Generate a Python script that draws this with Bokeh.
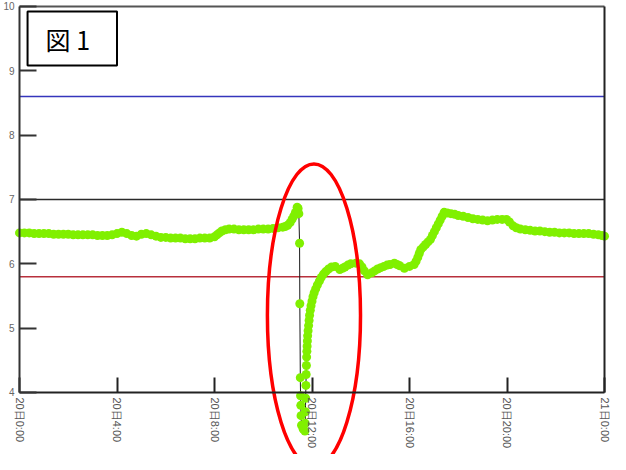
import math
from bokeh.plotting import figure
from bokeh.models import Range1d, LinearAxis, FixedTicker, Label
from bokeh.embed import file_html
from bokeh.resources import INLINE

# ---- data ----
hours = [
    0.0, 0.2, 0.4, 0.6, 0.8, 1.0, 1.2, 1.4, 1.6, 1.8, 2.0, 2.2, 2.4, 2.6, 2.8,
    3.0, 3.2, 3.4, 3.6, 3.8, 4.0, 4.2, 4.4, 4.6, 4.8, 5.0, 5.2, 5.4, 5.6, 5.8,
    6.0, 6.2, 6.4, 6.6, 6.8, 7.0, 7.2, 7.4, 7.6, 7.8, 8.0, 8.1, 8.2, 8.3,
    8.45, 8.6, 8.8, 9.0, 9.2, 9.4, 9.6, 9.8, 10.0, 10.2, 10.4, 10.6, 10.8,
    10.9, 11.0, 11.1, 11.18, 11.25, 11.32, 11.39,
    11.43, 11.46, 11.49, 11.50, 11.52, 11.53, 11.54, 11.55, 11.57, 11.64,
    11.71, 11.72, 11.73, 11.74, 11.75, 11.76, 11.77, 11.78, 11.79, 11.80,
    11.81, 11.82, 11.84, 11.86, 11.88, 11.90, 11.93, 11.96, 12.00, 12.04,
    12.09, 12.15, 12.22, 12.30, 12.38, 12.47, 12.57, 12.68, 12.80, 12.95,
    13.14, 13.25, 13.35, 13.47, 13.59, 13.80, 13.95, 14.05, 14.15, 14.28,
    14.45, 14.57, 14.69, 14.82, 14.95, 15.08, 15.20, 15.38, 15.49, 15.60,
    15.79, 16.00, 16.19, 16.27, 16.34, 16.40,
    16.46, 16.56, 16.66, 16.76, 16.86, 16.94, 17.02, 17.10, 17.18, 17.26,
    17.34, 17.42, 17.55, 17.70, 17.85, 18.00, 18.2, 18.4, 18.6, 18.8, 19.0,
    19.2, 19.4, 19.6, 19.8, 19.98, 20.1, 20.25, 20.38, 20.55, 20.75, 20.95,
    21.15, 21.35, 21.55, 21.75, 21.95, 22.15, 22.35, 22.55, 22.75, 22.95,
    23.15, 23.35, 23.55, 23.75, 23.9, 24.0,
]
ph = [
    6.48, 6.48, 6.48, 6.47, 6.47, 6.47, 6.47, 6.46, 6.46, 6.46, 6.46, 6.45, 6.45, 6.45, 6.45,
    6.45, 6.44, 6.44, 6.44, 6.45, 6.47, 6.49, 6.47, 6.44, 6.43, 6.46, 6.47, 6.45, 6.43, 6.41,
    6.41, 6.40, 6.40, 6.40, 6.39, 6.39, 6.39, 6.40, 6.40, 6.40, 6.42, 6.45, 6.48, 6.51,
    6.53, 6.54, 6.54, 6.53, 6.53, 6.53, 6.53, 6.54, 6.54, 6.54, 6.55, 6.56, 6.57,
    6.58, 6.60, 6.64, 6.69, 6.74, 6.80, 6.88,
    6.86, 6.78, 6.32, 5.38, 4.23, 3.95, 3.80, 3.64, 3.49, 3.43,
    3.40, 3.52, 3.70, 3.91, 4.11, 4.28, 4.42, 4.55, 4.64, 4.72,
    4.80, 4.88, 4.96, 5.04, 5.12, 5.20, 5.28, 5.35, 5.42, 5.49,
    5.55, 5.61, 5.67, 5.73, 5.79, 5.84, 5.88, 5.92, 5.95, 5.96,
    5.91, 5.93, 5.95, 5.98, 6.00, 6.01, 6.00, 5.95, 5.89, 5.83,
    5.86, 5.89, 5.92, 5.94, 5.96, 5.98, 5.99, 6.01, 5.99, 5.97,
    5.93, 5.96, 5.99, 6.04, 6.10, 6.16,
    6.22, 6.26, 6.30, 6.34, 6.38, 6.44, 6.50, 6.56, 6.62, 6.68,
    6.74, 6.80, 6.79, 6.78, 6.77, 6.75, 6.74, 6.72, 6.70, 6.69, 6.68,
    6.67, 6.68, 6.69, 6.69, 6.69, 6.65, 6.59, 6.56, 6.54, 6.53, 6.52,
    6.51, 6.51, 6.50, 6.49, 6.49, 6.48, 6.48, 6.48, 6.47, 6.47,
    6.47, 6.47, 6.46, 6.45, 6.44, 6.43,
]
tick_hours = [0, 4, 8, 12, 16, 20, 24]
tick_labels = ["20日0:00", "20日4:00", "20日8:00", "20日12:00",
               "20日16:00", "20日20:00", "21日0:00"]
y_ticks = [4, 5, 6, 7, 8, 9, 10]
y_min, y_max = 4, 10
limit_levels = [8.6, 7.0, 5.8]
limit_colors = ["#3535bc", "#2a2a2a", "#b8303c"]
figure_label = "図 1"
# highlighted region (red ellipse): centre hour, centre value, width (h), height
highlight_x = [12.08]
highlight_y = [5.20]
highlight_w = [3.82]
highlight_h = [4.71]

x_start, x_end = tick_hours[0], tick_hours[-1]

# ---- figure ----
p = figure(width=610, height=454,
           x_range=Range1d(-0.78, 24.246), y_range=Range1d(3.036, 10.093),
           output_backend="svg", toolbar_location=None,
           x_axis_location=None, y_axis_location=None,
           min_border_left=0, min_border_right=0,
           min_border_top=0, min_border_bottom=0)
p.outline_line_color = None
p.background_fill_color = "white"
p.border_fill_color = "white"
p.xgrid.visible = False
p.ygrid.visible = False

label_font = "Liberation Sans"

yaxis = LinearAxis(ticker=FixedTicker(ticks=y_ticks), bounds=(y_min, y_max),
                   fixed_location=x_start)
yaxis.axis_line_color = "#333333"
yaxis.axis_line_width = 2
yaxis.major_tick_in = 17
yaxis.major_tick_out = 0
yaxis.major_tick_line_color = "#333333"
yaxis.major_tick_line_width = 2
yaxis.minor_tick_line_color = None
yaxis.major_label_standoff = 5
yaxis.major_label_text_font = label_font
yaxis.major_label_text_font_size = "10px"
yaxis.major_label_text_color = "#666666"
p.add_layout(yaxis, "left")

xaxis = LinearAxis(ticker=FixedTicker(ticks=tick_hours), fixed_location=y_min,
                   bounds=(x_start, x_end))
xaxis.major_label_overrides = {h: t for h, t in zip(tick_hours, tick_labels)}
xaxis.major_label_orientation = -math.pi / 2
xaxis.axis_line_color = "#222222"
xaxis.axis_line_width = 2
xaxis.major_tick_in = 15
xaxis.major_tick_out = 0
xaxis.major_tick_line_color = "#222222"
xaxis.major_tick_line_width = 2
xaxis.minor_tick_line_color = None
xaxis.major_label_standoff = 5
xaxis.major_label_text_font = label_font
xaxis.major_label_text_font_size = "11px"
xaxis.major_label_text_color = "#555555"
p.add_layout(xaxis, "below")

raxis = LinearAxis(ticker=FixedTicker(ticks=[]), fixed_location=x_end,
                   bounds=(y_min, y_max))
raxis.axis_line_color = "#222222"
raxis.axis_line_width = 2
raxis.major_tick_line_color = None
raxis.minor_tick_line_color = None
p.add_layout(raxis, "right")

taxis = LinearAxis(ticker=FixedTicker(ticks=[]), fixed_location=y_max,
                   bounds=(x_start, x_end))
taxis.axis_line_color = "#555555"
taxis.axis_line_width = 2
taxis.major_tick_line_color = None
taxis.minor_tick_line_color = None
p.add_layout(taxis, "above")

n = len(limit_levels)
p.segment(x0=[x_start] * n, x1=[x_end] * n, y0=limit_levels, y1=limit_levels,
          line_color=limit_colors, line_width=1.5, level="underlay")

p.line(hours, ph, line_color="#1a1a1a", line_width=1)
p.scatter(hours, ph, marker="circle", size=9,
          fill_color="#80f000", line_color=None)

p.ellipse(x=highlight_x, y=highlight_y, width=highlight_w, height=highlight_h,
          fill_color=None, line_color="#ff0000", line_width=3.5)

p.add_layout(Label(x=0.33, y=9.922, text=figure_label, anchor="top_left",
                   text_font="Noto Sans CJK JP", text_font_size="25px",
                   text_color="black", border_line_color="black",
                   border_line_width=2, background_fill_color="white",
                   padding=(18, 27, 9, 9)))

open("out.html", "w").write(file_html(p, INLINE))
